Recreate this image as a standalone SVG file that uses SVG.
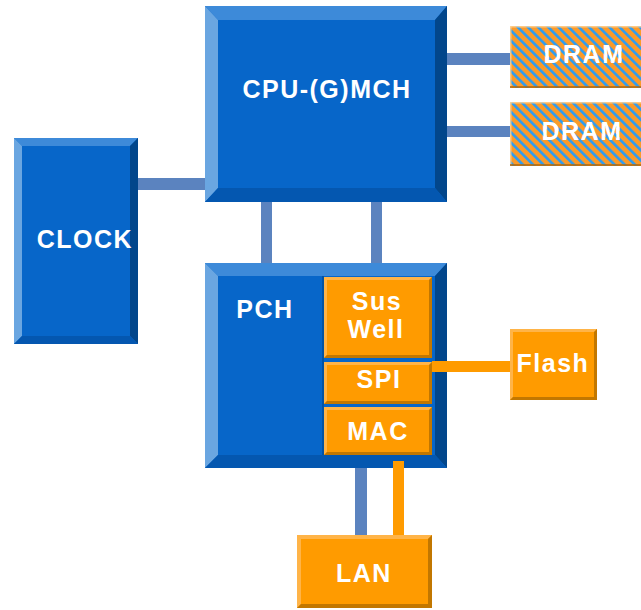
<svg xmlns="http://www.w3.org/2000/svg" width="641" height="610" viewBox="0 0 641 610">
<defs>
<style>
.face{fill:#0766c9}
.bt{fill:#3d8ad9}
.bl{fill:#6aa6e1}
.br{fill:#02468b}
.bb{fill:#0457b0}
.of{fill:#ff9b00}
.ot{fill:#ffb448}
.od{fill:#c27700}
.cb{fill:#5b83bf}
.co{fill:#ff9b00}
.t{font-family:"Liberation Sans",Arial,sans-serif;font-weight:bold;font-size:25px;letter-spacing:1.5px;fill:#ffffff;text-anchor:middle}
</style>
<pattern id="hatch" patternUnits="userSpaceOnUse" width="7.2" height="7.2" patternTransform="rotate(-45)">
<rect width="7.2" height="7.2" fill="#fa9a2a"/>
<rect width="2.6" height="7.2" fill="#2f9cf0"/>
</pattern>
</defs>
<rect width="641" height="610" fill="#ffffff"/>

<g id="connectors">
<rect class="cb" x="138" y="178" width="80" height="12"/>
<rect class="cb" x="447" y="53" width="63" height="12"/>
<rect class="cb" x="447" y="126" width="63" height="11"/>
<rect class="cb" x="261" y="202" width="11" height="61"/>
<rect class="cb" x="371" y="202" width="11" height="61"/>
<rect class="cb" x="355" y="468" width="12" height="67"/>
</g>

<g id="cpu">
<rect class="face" x="205" y="6" width="242" height="196"/>
<polygon class="bt" points="205,6 447,6 435,20 218,20"/>
<polygon class="bl" points="205,6 218,20 218,188 205,202"/>
<polygon class="br" points="447,6 447,202 435,188 435,20"/>
<polygon class="bb" points="205,202 447,202 435,188 218,188"/>
<text class="t" x="327" y="98">CPU-(G)MCH</text>
</g>

<g id="clock">
<rect class="face" x="14" y="138" width="124" height="206"/>
<polygon class="bt" points="14,138 138,138 130,146 22,146"/>
<polygon class="bl" points="14,138 22,146 22,336 14,344"/>
<polygon class="br" points="138,138 138,344 130,336 130,146"/>
<polygon class="bb" points="14,344 138,344 130,336 22,336"/>
<text class="t" x="85" y="248">CLOCK</text>
</g>

<g id="dram1">
<rect x="510" y="26" width="131" height="62" fill="url(#hatch)"/>
<rect x="510" y="26" width="131" height="1.5" fill="#ffd49a" opacity="0.8"/>
<rect x="510" y="26" width="1.5" height="62" fill="#ffd49a" opacity="0.8"/>
<rect x="510" y="86" width="131" height="2" fill="#b06a10" opacity="0.8"/>
<text class="t" x="584" y="63">DRAM</text>
</g>

<g id="dram2">
<rect x="510" y="102" width="131" height="64" fill="url(#hatch)"/>
<rect x="510" y="102" width="131" height="1.5" fill="#ffd49a" opacity="0.8"/>
<rect x="510" y="102" width="1.5" height="64" fill="#ffd49a" opacity="0.8"/>
<rect x="510" y="164" width="131" height="2" fill="#b06a10" opacity="0.8"/>
<text class="t" x="582" y="140">DRAM</text>
</g>

<g id="pch">
<rect class="face" x="205" y="263" width="242" height="205"/>
<polygon class="bt" points="205,263 447,263 435,276 218,276"/>
<polygon class="bl" points="205,263 218,276 218,455 205,468"/>
<polygon class="br" points="447,263 447,468 435,455 435,276"/>
<polygon class="bb" points="205,468 447,468 435,455 218,455"/>
<rect x="322" y="276" width="2" height="179" fill="#02468b" opacity="0.6"/>
<text class="t" x="265" y="318">PCH</text>
</g>

<g id="suswell">
<rect class="of" x="324" y="277" width="108" height="81"/>
<polygon class="ot" points="324,277 432,277 429,280 327,280 327,355 324,358"/>
<polygon class="od" points="432,277 432,358 324,358 327,355 429,355 429,280"/>
<text class="t" x="377" y="310">Sus</text>
<text class="t" x="376" y="338">Well</text>
</g>

<g id="spi">
<rect class="of" x="324" y="362" width="108" height="42"/>
<polygon class="ot" points="324,362 432,362 429,365 327,365 327,401 324,404"/>
<polygon class="od" points="432,362 432,404 324,404 327,401 429,401 429,365"/>
<text class="t" x="379" y="388">SPI</text>
</g>

<g id="mac">
<rect class="of" x="324" y="407" width="108" height="48"/>
<polygon class="ot" points="324,407 432,407 429,410 327,410 327,452 324,455"/>
<polygon class="od" points="432,407 432,455 324,455 327,452 429,452 429,410"/>
<text class="t" x="378" y="440">MAC</text>
</g>

<g id="connectors-orange">
<rect class="co" x="432" y="361" width="78" height="11"/>
<rect class="co" x="393" y="461" width="11" height="76"/>
</g>

<g id="flash">
<rect class="of" x="510" y="329" width="87" height="71"/>
<polygon class="ot" points="510,329 597,329 594,332 513,332 513,397 510,400"/>
<polygon class="od" points="597,329 597,400 510,400 513,397 594,397 594,332"/>
<text class="t" x="553" y="372">Flash</text>
</g>

<g id="lan">
<rect class="of" x="297" y="535" width="135" height="73"/>
<polygon class="ot" points="297,535 432,535 428,539 301,539 301,604 297,608"/>
<polygon class="od" points="432,535 432,608 297,608 301,604 428,604 428,539"/>
<text class="t" x="364" y="582">LAN</text>
</g>
</svg>
